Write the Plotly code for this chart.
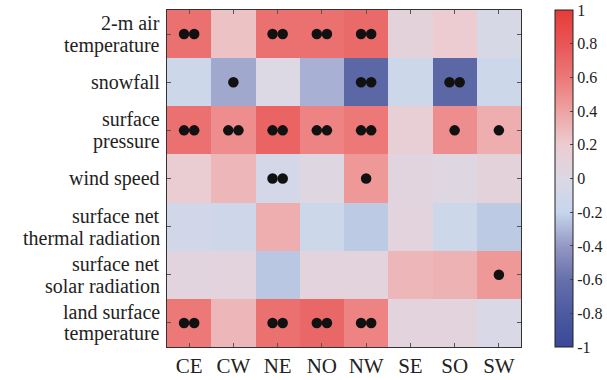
import plotly.graph_objects as go

regions = ["CE", "CW", "NE", "NO", "NW", "SE", "SO", "SW"]
variables = [["2-m air", "temperature"], ["snowfall"], ["surface", "pressure"], ["wind speed"],
             ["surface net", "thermal radiation"], ["surface net", "solar radiation"],
             ["land surface", "temperature"]]

corr = [
    [0.65, 0.25, 0.65, 0.65, 0.68, 0.10, 0.20, -0.05],
    [-0.15, -0.35, 0.00, -0.32, -0.68, -0.15, -0.68, -0.15],
    [0.65, 0.50, 0.72, 0.55, 0.60, 0.15, 0.50, 0.35],
    [0.18, 0.30, -0.08, 0.02, 0.45, 0.06, 0.02, 0.10],
    [-0.10, -0.13, 0.35, -0.15, -0.24, 0.08, -0.15, -0.24],
    [0.06, 0.08, -0.25, 0.08, 0.08, 0.30, 0.32, 0.45],
    [0.60, 0.30, 0.65, 0.70, 0.55, 0.08, 0.08, -0.04],
]

# number of significance dots per cell
signif = [
    [2, 0, 2, 2, 2, 0, 0, 0],
    [0, 1, 0, 0, 2, 0, 2, 0],
    [2, 2, 2, 2, 2, 0, 1, 1],
    [0, 0, 2, 0, 1, 0, 0, 0],
    [0, 0, 0, 0, 0, 0, 0, 0],
    [0, 0, 0, 0, 0, 0, 0, 1],
    [2, 0, 2, 2, 2, 0, 0, 0],
]

cbar_ticks = [-1, -0.8, -0.6, -0.4, -0.2, 0, 0.2, 0.4, 0.6, 0.8, 1]

colorscale = [
    [0.0, "#3a4898"], [0.1, "#4c5aa0"], [0.2, "#6670aa"], [0.3, "#9498c4"],
    [0.4, "#c6d6ec"], [0.5, "#dcd8e4"], [0.6, "#ecccd0"], [0.7, "#eea2a2"],
    [0.8, "#ec7878"], [0.9, "#e85656"], [1.0, "#e63c38"],
]

xs = list(range(len(regions)))
ys = list(range(len(variables)))

fig = go.Figure()
fig.add_trace(go.Heatmap(
    z=corr, x=xs, y=ys, zmin=-1, zmax=1, colorscale=colorscale,
    colorbar=dict(
        x=1.096, xanchor="left", xpad=0, y=0.5, yanchor="middle", ypad=0,
        len=1.0, lenmode="fraction",
        thickness=18, thicknessmode="pixels", outlinewidth=1, outlinecolor="#222",
        tickvals=cbar_ticks, ticktext=[("%g" % t) for t in cbar_ticks],
        ticks="inside", ticklen=3, tickcolor="#444",
        tickfont=dict(family="Liberation Serif", size=16, color="#222"),
    ),
))

off = 0.115
dx, dy = [], []
for r, row in enumerate(signif):
    for c, n in enumerate(row):
        if n == 1:
            dx.append(c); dy.append(r)
        elif n == 2:
            dx += [c - off, c + off]; dy += [r, r]
fig.add_trace(go.Scatter(x=dx, y=dy, mode="markers",
                         marker=dict(color="#111", size=10.5, line=dict(width=0)),
                         showlegend=False, hoverinfo="skip"))

axis_common = dict(showline=True, linecolor="#333", linewidth=1, mirror="ticks",
                   ticks="inside", ticklen=4, tickcolor="#555", showgrid=False, zeroline=False)
fig.update_xaxes(tickvals=xs, ticktext=regions, range=[-0.5, len(regions) - 0.5],
                 tickfont=dict(family="Liberation Serif", size=21, color="#222"), **axis_common)
fig.update_yaxes(tickvals=ys, ticktext=["" for _ in ys], range=[len(variables) - 0.5, -0.5],
                 **axis_common)

# y labels as tight two-line annotations
spacing = 22
for r, lines in enumerate(variables):
    n = len(lines)
    for i, line in enumerate(lines):
        fig.add_annotation(x=0, xref="paper", xanchor="right", xshift=-6,
                           y=r, yref="y", yanchor="middle",
                           yshift=(n - 1) * spacing / 2 - i * spacing,
                           text=line, showarrow=False, borderpad=0,
                           font=dict(family="Liberation Serif", size=20, color="#222"))

fig.update_layout(
    width=607, height=380,
    margin=dict(l=167, r=86, t=10, b=33, autoexpand=False),
    paper_bgcolor="white", plot_bgcolor="white", showlegend=False,
)
fig.write_html("out.html")
